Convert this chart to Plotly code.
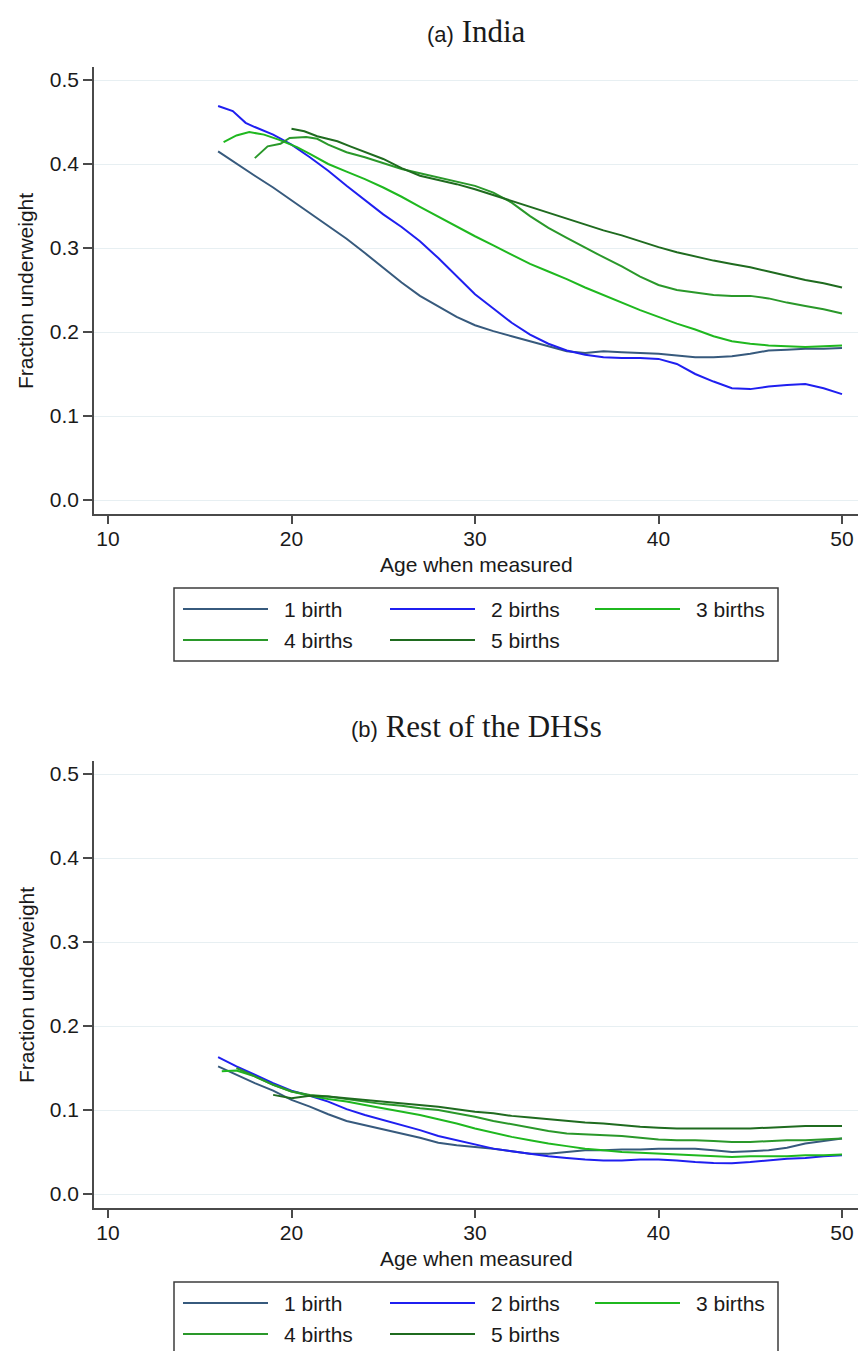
import plotly.graph_objects as go

# ---------------- data ----------------
series_names = ["1 birth", "2 births", "3 births", "4 births", "5 births"]
series_colors = ["#375a7d", "#1f1ff0", "#1fb81f", "#2a982a", "#1f6b1f"]

# Panel (a) India
india_age_1 = list(range(16, 51))
india_val_1 = [0.415, 0.400, 0.386, 0.372, 0.357, 0.342, 0.327, 0.311, 0.294, 0.276,
               0.259, 0.243, 0.230, 0.218, 0.208, 0.201, 0.195, 0.189, 0.183, 0.177,
               0.175, 0.177, 0.176, 0.175, 0.174, 0.172, 0.170, 0.170, 0.171, 0.174,
               0.178, 0.179, 0.180, 0.180, 0.181]

india_age_2 = [16, 16.8, 17.5, 18] + list(range(19, 51))
india_val_2 = [0.469, 0.463, 0.449, 0.444, 0.435, 0.423, 0.408, 0.392, 0.374, 0.357,
               0.340, 0.325, 0.308, 0.288, 0.266, 0.245, 0.228, 0.211, 0.197, 0.186,
               0.178, 0.173, 0.170, 0.169, 0.169, 0.168, 0.162, 0.150, 0.141, 0.133,
               0.132, 0.135, 0.137, 0.138, 0.133, 0.126]

india_age_3 = [16.3, 17, 17.7, 18.5, 19.3, 20.3] + list(range(21, 51))
india_val_3 = [0.426, 0.434, 0.438, 0.435, 0.429, 0.420, 0.412, 0.400, 0.391, 0.382,
               0.372, 0.361, 0.349, 0.337, 0.325, 0.314, 0.303, 0.292, 0.281, 0.272,
               0.263, 0.253, 0.244, 0.235, 0.226, 0.218, 0.210, 0.203, 0.195, 0.189,
               0.186, 0.184, 0.183, 0.182, 0.183, 0.184]

india_age_4 = [18, 18.7, 19.4, 19.9, 20.8, 21.4] + list(range(22, 51))
india_val_4 = [0.407, 0.421, 0.424, 0.431, 0.432, 0.430, 0.423, 0.414, 0.408, 0.401,
               0.394, 0.389, 0.384, 0.379, 0.374, 0.366, 0.354, 0.338, 0.324, 0.312,
               0.300, 0.289, 0.278, 0.266, 0.256, 0.250, 0.247, 0.244, 0.243, 0.243,
               0.240, 0.235, 0.231, 0.227, 0.222]

india_age_5 = [20, 20.7, 21.4, 22.5, 23.2] + list(range(24, 51))
india_val_5 = [0.442, 0.439, 0.433, 0.427, 0.421, 0.414, 0.406, 0.395, 0.386, 0.381,
               0.376, 0.370, 0.363, 0.356, 0.349, 0.342, 0.335, 0.328, 0.321, 0.315,
               0.308, 0.301, 0.295, 0.290, 0.285, 0.281, 0.277, 0.272, 0.267, 0.262,
               0.258, 0.253]

# Panel (b) Rest of the DHSs
dhs_age_1 = list(range(16, 51))
dhs_val_1 = [0.152, 0.142, 0.132, 0.123, 0.112, 0.104, 0.095, 0.087, 0.082, 0.077,
             0.072, 0.067, 0.061, 0.058, 0.056, 0.054, 0.051, 0.048, 0.048, 0.050,
             0.052, 0.052, 0.053, 0.053, 0.054, 0.054, 0.054, 0.052, 0.050, 0.051,
             0.052, 0.055, 0.060, 0.063, 0.066]

dhs_age_2 = list(range(16, 51))
dhs_val_2 = [0.163, 0.152, 0.142, 0.132, 0.123, 0.117, 0.110, 0.101, 0.094, 0.088,
             0.082, 0.076, 0.069, 0.064, 0.059, 0.054, 0.051, 0.048, 0.045, 0.043,
             0.041, 0.040, 0.040, 0.041, 0.041, 0.040, 0.038, 0.037, 0.0365, 0.038,
             0.040, 0.042, 0.043, 0.045, 0.046]

dhs_age_3 = [16.2] + list(range(17, 51))
dhs_val_3 = [0.146, 0.147, 0.140, 0.130, 0.122, 0.117, 0.113, 0.110, 0.106, 0.102,
             0.098, 0.094, 0.089, 0.084, 0.078, 0.073, 0.068, 0.064, 0.060, 0.057,
             0.054, 0.052, 0.050, 0.049, 0.048, 0.047, 0.046, 0.045, 0.044, 0.045,
             0.045, 0.045, 0.046, 0.046, 0.047]

dhs_age_4 = list(range(17, 51))
dhs_val_4 = [0.150, 0.140, 0.130, 0.122, 0.118, 0.116, 0.113, 0.110, 0.107, 0.105,
             0.102, 0.100, 0.096, 0.092, 0.087, 0.083, 0.079, 0.075, 0.072, 0.071,
             0.070, 0.069, 0.067, 0.065, 0.064, 0.064, 0.063, 0.062, 0.062, 0.063,
             0.064, 0.064, 0.065, 0.066]

dhs_age_5 = list(range(19, 51))
dhs_val_5 = [0.118, 0.114, 0.117, 0.116, 0.114, 0.112, 0.110, 0.108, 0.106, 0.104,
             0.101, 0.098, 0.096, 0.093, 0.091, 0.089, 0.087, 0.085, 0.084, 0.082,
             0.080, 0.079, 0.078, 0.078, 0.078, 0.078, 0.078, 0.079, 0.080, 0.081,
             0.081, 0.081]

x_ticks = [10, 20, 30, 40, 50]
y_ticks = [0.0, 0.1, 0.2, 0.3, 0.4, 0.5]
y_ticklabels = ["0.0", "0.1", "0.2", "0.3", "0.4", "0.5"]
panel_titles = ["(a)", "(b)"]
panel_names = ["India", "Rest of the DHSs"]
x_title = "Age when measured"
y_title = "Fraction underweight"

# ---------------- layout helpers ----------------
W, H = 858, 1351
SANS = "Liberation Sans, Arial, Helvetica, sans-serif"
SERIF = "Liberation Serif, Times New Roman, serif"
AX = "#4a4a4a"
GRID = "#e7eff2"


def fx(x):
    return x / W


def fy(y):
    return 1 - y / H


fig = go.Figure()

india = [(india_age_1, india_val_1), (india_age_2, india_val_2), (india_age_3, india_val_3),
         (india_age_4, india_val_4), (india_age_5, india_val_5)]
dhs = [(dhs_age_1, dhs_val_1), (dhs_age_2, dhs_val_2), (dhs_age_3, dhs_val_3),
       (dhs_age_4, dhs_val_4), (dhs_age_5, dhs_val_5)]

for panel, (xa, ya) in zip([india, dhs], [("x", "y"), ("x2", "y2")]):
    for (ages, vals), name, col in zip(panel, series_names, series_colors):
        fig.add_trace(go.Scatter(x=ages, y=vals, mode="lines", name=name,
                                 line=dict(color=col, width=2),
                                 xaxis=xa, yaxis=ya, showlegend=False))

offset = 694  # vertical pixel offset between the two panels
x_range = [10 - 14 / 18.35, 50 + 16 / 18.35]
y_range = [-14 / 840, 0.5 + 13 / 840]

axis_common = dict(showline=True, linecolor=AX, linewidth=1.5, ticks="outside",
                   tickcolor=AX, tickwidth=1.5, zeroline=False,
                   tickfont=dict(family=SANS, size=21, color="#1a1a1a"))

layout = dict(width=W, height=H, margin=dict(l=0, r=0, t=0, b=0),
              paper_bgcolor="white", plot_bgcolor="white", showlegend=False)

for i, suffix in enumerate(["", "2"]):
    top = 67 + i * offset
    bot = 514 + i * offset
    layout["xaxis" + suffix] = dict(axis_common, domain=[fx(94), 1], range=x_range,
                                    tickvals=x_ticks, ticklen=8, showgrid=False,
                                    ticklabelstandoff=-3, anchor="y" + suffix)
    layout["yaxis" + suffix] = dict(axis_common, domain=[fy(bot), fy(top)], range=y_range,
                                    tickvals=y_ticks, ticktext=y_ticklabels, ticklen=9,
                                    showgrid=True, gridcolor=GRID, gridwidth=1.2,
                                    anchor="x" + suffix)

fig.update_layout(**layout)

annotations = []
shapes = []
for i in range(2):
    dy = i * offset
    # panel title
    annotations.append(dict(
        x=fx(476), y=fy(32 + dy), xref="paper", yref="paper", showarrow=False,
        xanchor="center", yanchor="middle",
        text=f"<span style='font-family:{SANS};font-size:22px'>{panel_titles[i]}</span> "
             f"<span style='font-family:{SERIF};font-size:31px'>{panel_names[i]}</span>",
        font=dict(family=SERIF, size=31, color="#1a1a1a")))
    # axis titles
    annotations.append(dict(x=fx(476), y=fy(564 + dy), xref="paper", yref="paper",
                            showarrow=False, xanchor="center", yanchor="middle",
                            text=x_title, font=dict(family=SANS, size=21, color="#1a1a1a")))
    annotations.append(dict(x=fx(26), y=fy(291 + dy), xref="paper", yref="paper",
                            showarrow=False, xanchor="center", yanchor="middle",
                            textangle=-90, text=y_title,
                            font=dict(family=SANS, size=21, color="#1a1a1a")))
    # legend box
    shapes.append(dict(type="rect", xref="paper", yref="paper",
                       x0=fx(174), x1=fx(778), y0=fy(661 + dy), y1=fy(588 + dy),
                       line=dict(color="#3c3c3c", width=1.5), fillcolor="white", layer="below"))
    col_x = [183, 390, 595]
    row_y = [609, 640]
    for k, (name, col) in enumerate(zip(series_names, series_colors)):
        r, c = divmod(k, 3)
        x0 = col_x[c]
        yy = row_y[r] + dy
        shapes.append(dict(type="line", xref="paper", yref="paper",
                           x0=fx(x0), x1=fx(x0 + 85), y0=fy(yy), y1=fy(yy),
                           line=dict(color=col, width=2)))
        annotations.append(dict(x=fx(x0 + 99), y=fy(yy), xref="paper", yref="paper",
                                showarrow=False, xanchor="left", yanchor="middle",
                                text=name, font=dict(family=SANS, size=21, color="#1a1a1a")))

fig.update_layout(annotations=annotations, shapes=shapes)
fig.write_html("out.html")
